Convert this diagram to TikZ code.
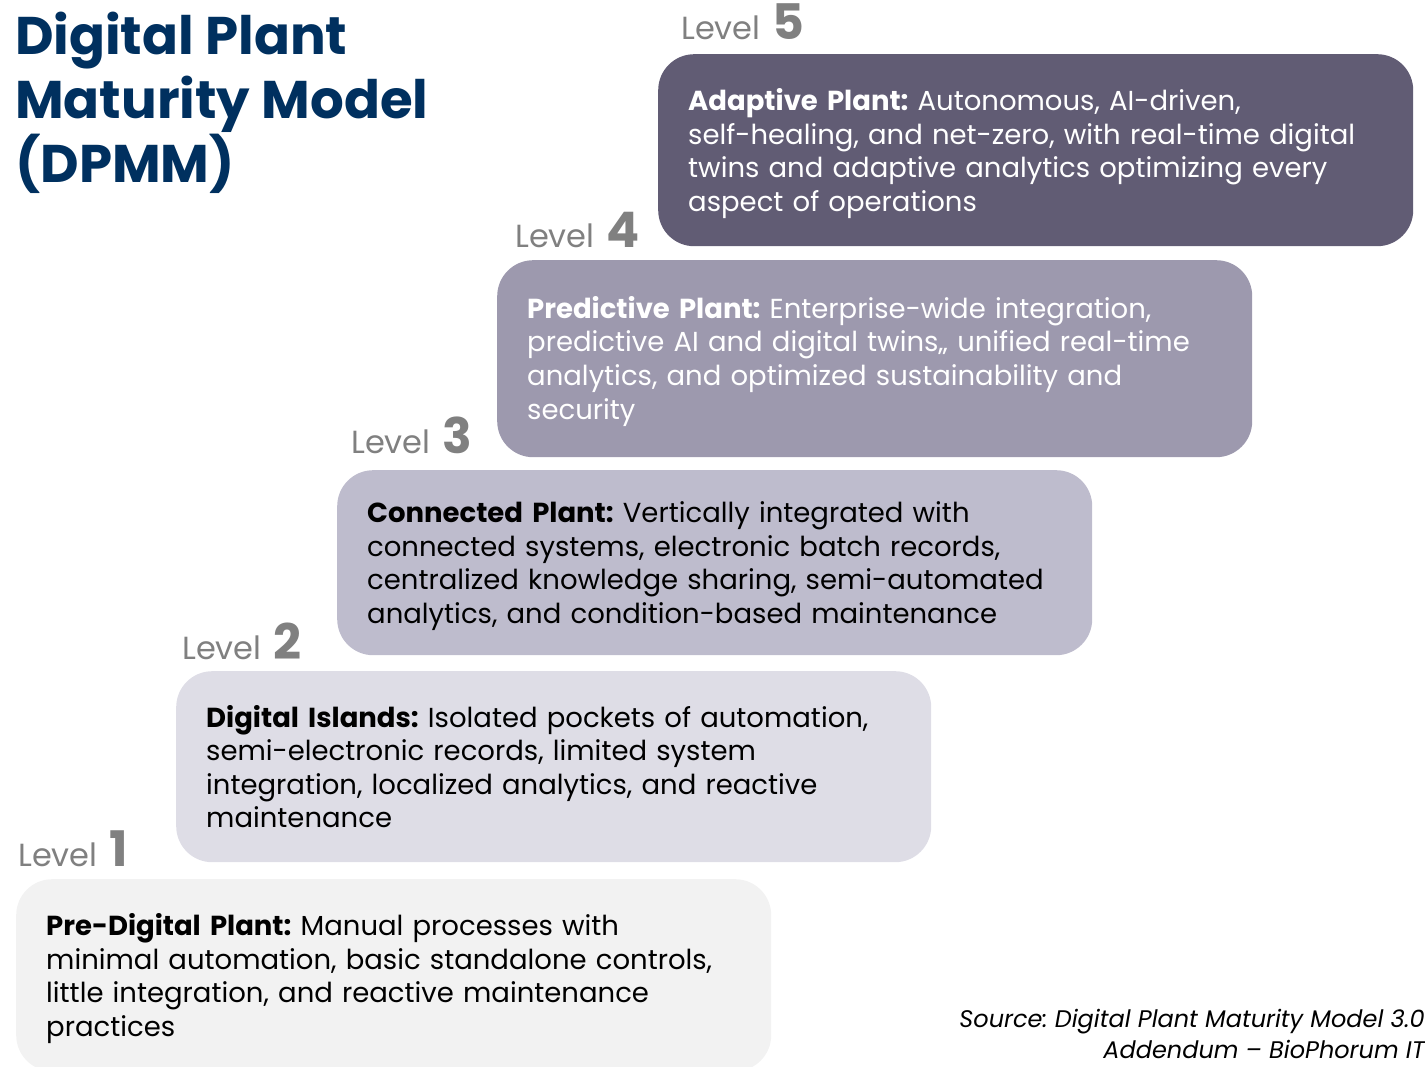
\documentclass[tikz,border=0pt]{standalone}
\usepackage{fontspec}
\setmainfont{Poppins}
\usetikzlibrary{positioning}

\definecolor{navy}{HTML}{00305F}
\definecolor{lvlgray}{HTML}{808080}
\definecolor{lvlfive}{HTML}{615C74}
\definecolor{lvlfour}{HTML}{9D99AE}
\definecolor{lvlthree}{HTML}{BEBCCD}
\definecolor{lvltwo}{HTML}{DEDDE6}
\definecolor{lvlone}{HTML}{F2F2F2}

\frenchspacing
\hyphenpenalty=10000

\newcommand{\lvl}[1]{\fontsize{32}{32}\selectfont Level\hspace{12pt}{\fontsize{49}{49}\selectfont\bfseries #1}}

\tikzset{
  stage/.style={rounded corners=36pt, anchor=north west, inner xsep=30pt,
    minimum width=755pt, minimum height=192pt, text width=695pt, align=left,
    font=\fontsize{27.5}{33.6}\selectfont},
  nudge/.style={execute at begin node={\rule{0pt}{#1}}},
  lvllabel/.style={anchor=base west, inner sep=0pt, text=lvlgray}
}

\begin{document}
\begin{tikzpicture}[x=1pt,y=-1pt]
\useasboundingbox (0,0) rectangle (1425,1067);
\begin{scope}
\clip (0,0) rectangle (1425,1067);
% title
\node[anchor=north west, inner sep=0pt, align=left, text=navy,
  font=\fontsize{53}{64}\selectfont\bfseries] (title) at (15,12)
  {Digital Plant\\Maturity Model\\(DPMM)};

% the five stages
\node[stage, nudge=29pt, fill=lvlfive, text=white] (s5) at (658,54)
  {\textbf{Adaptive Plant:} Autonomous, AI-driven,\\
   self-healing, and net-zero, with real-time digital\\
   twins and adaptive analytics optimizing every\\
   aspect of operations};
\node[stage, nudge=27pt, fill=lvlfour, text=white, minimum height=197pt] (s4) at (497,260)
  {\textbf{Predictive Plant:} Enterprise-wide integration,\\
   predictive AI and digital twins,, unified real-time\\
   analytics, and optimized sustainability and\\
   security};
\node[stage, nudge=28pt, fill=lvlthree, minimum height=185pt] (s3) at (337,470)
  {\textbf{Connected Plant:} Vertically integrated with\\
   connected systems, electronic batch records,\\
   centralized knowledge sharing, semi-automated\\
   analytics, and condition-based maintenance};
\node[stage, fill=lvltwo, minimum height=191pt] (s2) at (176,671)
  {\textbf{Digital Islands:} Isolated pockets of automation,\\
   semi-electronic records, limited system\\
   integration, localized analytics, and reactive\\
   maintenance};
\node[stage, nudge=29pt, fill=lvlone] (s1) at (16,879)
  {\textbf{Pre-Digital Plant:} Manual processes with\\
   minimal automation, basic standalone controls,\\
   little integration, and reactive maintenance\\
   practices};

% level labels
\node[lvllabel] (l5) at (681,40) {\lvl{5}};
\node[lvllabel] (l4) at (515,248) {\lvl{4}};
\node[lvllabel] (l3) at (351,453) {\lvl{3}};
\node[lvllabel] (l2) at (182,659) {\lvl{2}};
\node[lvllabel] (l1) at (18,866) {\lvl{1}};
\end{scope}

% source
\node[anchor=base east, inner sep=0pt, align=right,
  font=\fontsize{24}{31}\selectfont\itshape] (src) at (1425,1058)
  {Source: Digital Plant Maturity Model 3.0\\Addendum -- BioPhorum IT};
\end{tikzpicture}
\end{document}
